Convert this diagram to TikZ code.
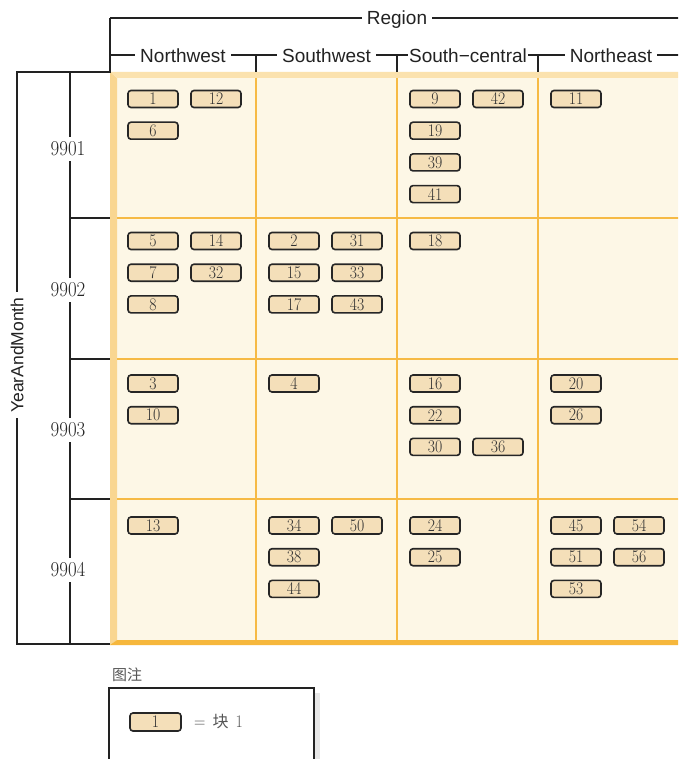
\documentclass[tikz,border=0pt]{standalone}
\usepackage{fontspec}
\usepackage{graphicx}
\newfontfamily\hdrfont{Liberation Sans}
\newfontfamily\cjkfont{Noto Sans CJK SC}
\definecolor{cream}{HTML}{FDF7E6}
\definecolor{gridor}{HTML}{F6BA45}
\definecolor{frameleft}{HTML}{F9D691}
\definecolor{frametop}{HTML}{FBE2AE}
\definecolor{framebot}{HTML}{F6B73C}
\definecolor{chipfill}{HTML}{F4DFB9}
\definecolor{chipborder}{HTML}{262626}
\definecolor{axis}{HTML}{222222}
\definecolor{legtext}{HTML}{555555}
\definecolor{shadowg}{HTML}{E6E6E6}
\newcommand{\tallnum}[2]{\scalebox{1.05}[1.18]{\fontsize{#1}{#1}\selectfont #2}}
\tikzset{
  chip/.style={draw=chipborder, fill=chipfill, line width=1.6pt, rounded corners=3pt,
    minimum width=50pt, minimum height=17pt, inner sep=0pt, text=black!80},
  axisline/.style={draw=axis, line width=1.6pt},
  hdrlabel/.style={fill=white, inner xsep=5pt, inner ysep=1pt, font=\hdrfont\fontsize{19}{20}\selectfont, text=axis},
  rowlabel/.style={fill=white, inner xsep=1pt, inner ysep=5pt, text=black!85},
  gridline/.style={draw=gridor, line width=2.6pt}
}
\begin{document}
\begin{tikzpicture}[x=1pt,y=-1pt]
\useasboundingbox (0,0) rectangle (678,759);
\clip (0,0) rectangle (678,759);
\fill[white] (0,0) rectangle (678,759);
% grid background and frame
\fill[cream] (110,72) rectangle (700,645);
\fill[frameleft] (110,72) -- (117,78) -- (117,640) -- (110,645) -- cycle;
\fill[frametop] (110,72) -- (700,72) -- (700,78) -- (117,78) -- cycle;
\fill[framebot] (110,645) -- (117,640) -- (700,640) -- (700,645) -- cycle;
\foreach \xx in {256,397,538} { \draw[gridline] (\xx,78) -- (\xx,640); }
\foreach \yy in {218,359,499} { \draw[gridline] (117,\yy) -- (700,\yy); }
% coordinates for axes
\coordinate (topL) at (110,18);
\coordinate (topR) at (700,18);
\coordinate (cornerA) at (110,72);
\coordinate (cornerB) at (17,72);
\coordinate (cornerC) at (17,644);
\coordinate (cornerD) at (110,644);
\coordinate (rowTop) at (70,72);
\coordinate (rowBot) at (70,644);
% left outer axis
\draw[axisline] (topL) -- (cornerA) -- (cornerB) -- (cornerC) -- (cornerD);
\node[hdrlabel, rotate=90, inner xsep=5pt, inner ysep=1pt, font=\hdrfont\fontsize{17.5}{18}\selectfont] (ym) at (17,355) {YearAndMonth};
% row axis
\draw[axisline] (rowTop) -- (rowBot);
\foreach \yy/\nm in {218/r2,359/r3,499/r4} {
  \coordinate (\nm a) at (70,\yy); \coordinate (\nm b) at (110,\yy);
  \draw[axisline] (\nm a) -- (\nm b);
}
\node[rowlabel] (y9901) at (68,149) {\tallnum{18}{9901}};
\node[rowlabel] (y9902) at (68,290) {\tallnum{18}{9902}};
\node[rowlabel] (y9903) at (68,430) {\tallnum{18}{9903}};
\node[rowlabel] (y9904) at (68,570) {\tallnum{18}{9904}};
% top header
\draw[axisline] (topL) -- (topR);
\node[hdrlabel] (region) at (397,19.5) {Region};
\foreach \xa/\xb/\nm in {110/256/c1,256/397/c2,397/538/c3,538/700/c4} {
  \coordinate (\nm t) at (\xa,55); \coordinate (\nm b) at (\xa,72); \coordinate (\nm r) at (\xb,55);
  \draw[axisline] (\nm b) -- (\nm t) -- (\nm r);
}
\node[hdrlabel] (nw) at (183,56) {Northwest};
\node[hdrlabel] (sw) at (326.5,56) {Southwest};
\node[hdrlabel, inner xsep=1pt] (sc) at (468,56) {South−central};
\node[hdrlabel] (ne) at (611,56) {Northeast};
% chips
\foreach \c/\r/\l/\p/\t in {
 0/0/0/0/1,0/0/0/1/12,0/0/1/0/6,2/0/0/0/9,2/0/0/1/42,2/0/1/0/19,2/0/2/0/39,2/0/3/0/41,3/0/0/0/11,
 0/1/0/0/5,0/1/0/1/14,0/1/1/0/7,0/1/1/1/32,0/1/2/0/8,1/1/0/0/2,1/1/0/1/31,1/1/1/0/15,1/1/1/1/33,1/1/2/0/17,1/1/2/1/43,2/1/0/0/18,
 0/2/0/0/3,0/2/1/0/10,1/2/0/0/4,2/2/0/0/16,2/2/1/0/22,2/2/2/0/30,2/2/2/1/36,3/2/0/0/20,3/2/1/0/26,
 0/3/0/0/13,1/3/0/0/34,1/3/0/1/50,1/3/1/0/38,1/3/2/0/44,2/3/0/0/24,2/3/1/0/25,3/3/0/0/45,3/3/0/1/54,3/3/1/0/51,3/3/1/1/56,3/3/2/0/53}{
  \pgfmathsetmacro{\xx}{{115,256,397,538}[\c]+38+63*\p}
  \pgfmathsetmacro{\yy}{{99,241,383.5,525.5}[\r]+31.7*\l}
  \node[chip] (b\t) at (\xx,\yy) {\tallnum{15}{\t}};
}
% legend
\node[anchor=west, inner sep=0pt, font=\cjkfont\fontsize{15}{15}\selectfont, text=legtext] (legtitle) at (112,675) {图注};
\fill[shadowg] (314,693) rectangle (320,775);
\draw[draw=axis, line width=1.8pt, fill=white] (109,688) rectangle (314,775);
\node[chip, minimum width=51pt, minimum height=18pt] (legchip) at (155.5,722) {\tallnum{15}{1}};
\node[anchor=west, inner sep=0pt, text=legtext] (legtxt) at (194,722) {\tallnum{15}{=}\hspace{7pt}{\cjkfont\fontsize{16}{16}\selectfont 块}\hspace{7pt}\tallnum{15}{1}};
\end{tikzpicture}
\end{document}
